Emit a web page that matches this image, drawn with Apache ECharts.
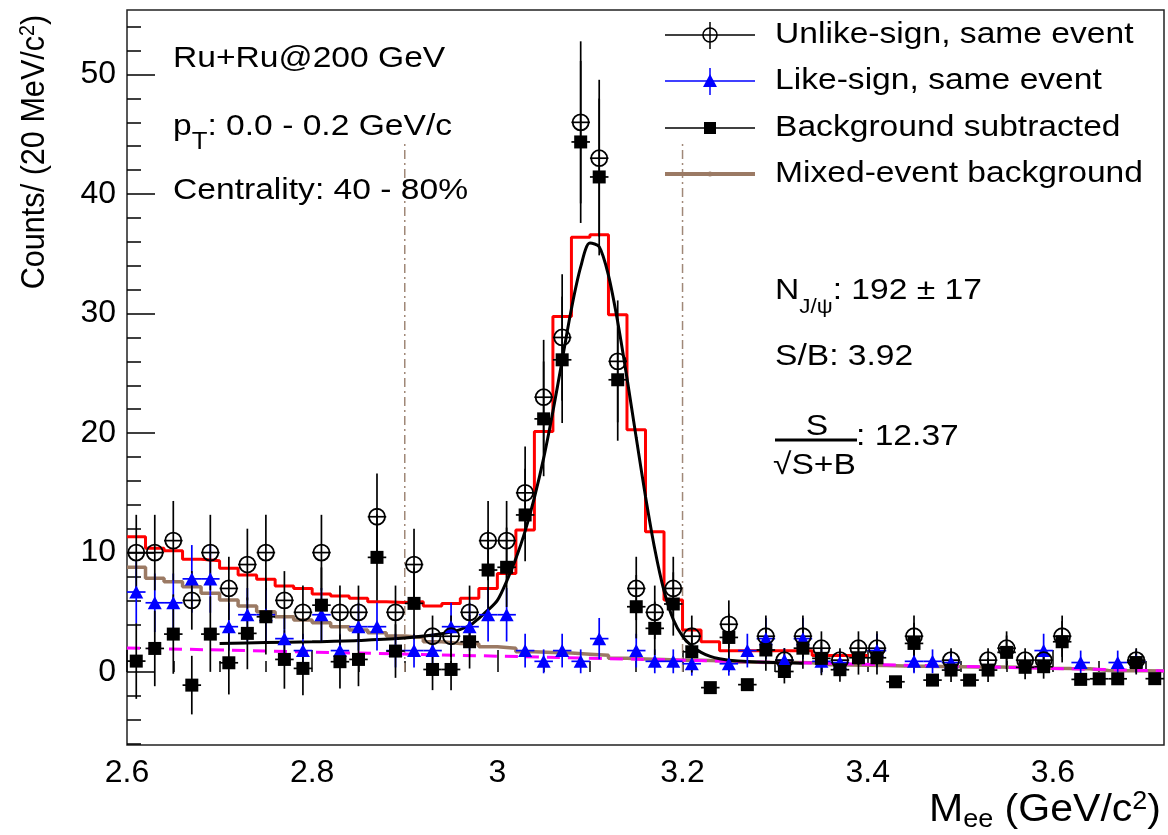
<!DOCTYPE html>
<html><head><meta charset="utf-8">
<script src="https://cdn.jsdelivr.net/npm/echarts@6/dist/echarts.min.js"></script>
<style>html,body{margin:0;padding:0;background:#fff}#c{width:1168px;height:835px}</style>
</head><body><div id="c"></div>
<script>
// ---------------- DATA ----------------
const binCenters = [2.61,2.63,2.65,2.67,2.69,2.71,2.73,2.75,2.77,2.79,
  2.81,2.83,2.85,2.87,2.89,2.91,2.93,2.95,2.97,2.99,
  3.01,3.03,3.05,3.07,3.09,3.11,3.13,3.15,3.17,3.19,
  3.21,3.23,3.25,3.27,3.29,3.31,3.33,3.35,3.37,3.39,
  3.41,3.43,3.45,3.47,3.49,3.51,3.53,3.55,3.57,3.59,
  3.61,3.63,3.65,3.67,3.69,3.71];
const binEdges = [2.60,2.62,2.64,2.66,2.68,2.70,2.72,2.74,2.76,2.78,
  2.80,2.82,2.84,2.86,2.88,2.90,2.92,2.94,2.96,2.98,
  3.00,3.02,3.04,3.06,3.08,3.10,3.12,3.14,3.16,3.18,
  3.20,3.22,3.24,3.26,3.28,3.30,3.32,3.34,3.36,3.38,
  3.40,3.42,3.44,3.46,3.48,3.50,3.52,3.54,3.56,3.58,
  3.60,3.62,3.64,3.66,3.68,3.70,3.72];
const binHalfWidth = 0.01;

// Unlike-sign, same event (open circles)
const unlikeSign = [10,10,11,6,10,7,9,10,6,5,
  10,5,5,13,5,9,3,3,5,11,
  11,15,23,28,46,43,26,7,5,7,
  3,null,4,null,3,1,3,2,1,2,
  2,null,3,null,1,null,1,2,1,1,
  3,null,null,null,1,null];
const unlikeSignErr = [3.16,3.16,3.32,2.45,3.16,2.65,3.0,3.16,2.45,2.24,
  3.16,2.24,2.24,3.61,2.24,3.0,1.73,1.73,2.24,3.32,
  3.32,3.87,4.8,5.29,6.78,6.56,5.1,2.65,2.24,2.65,
  1.73,null,2.0,null,1.73,1.0,1.73,1.41,1.0,1.41,
  1.41,null,1.73,null,1.0,null,1.0,1.41,1.0,1.0,
  1.73,null,null,null,1.0,null];

// Like-sign, same event (blue triangles)
const likeSign = [6.7,5.8,5.8,7.8,7.8,3.8,4.8,4.8,2.8,1.8,
  4.8,1.8,3.8,3.8,1.8,1.8,1.8,3.8,3.8,4.8,
  4.8,1.8,0.9,1.8,0.9,2.8,null,1.8,0.9,0.9,
  0.7,null,0.7,1.8,2.8,1.0,2.8,0.9,0.8,null,
  1.8,null,0.9,0.9,0.8,null,null,null,null,1.8,
  null,0.8,null,0.8,0.9,null];
const likeSignErr = [2.65,2.45,2.45,2.83,2.83,2.0,2.24,2.24,1.73,1.41,
  2.24,1.41,2.0,2.0,1.41,1.41,1.41,2.0,2.0,2.24,
  2.24,1.41,1.0,1.41,1.0,1.73,null,1.41,1.0,1.0,
  1.0,null,1.0,1.41,1.73,1.0,1.73,1.0,1.0,null,
  1.41,null,1.0,1.0,1.0,null,null,null,null,1.41,
  null,1.0,null,1.0,1.0,null];

// Background subtracted (filled squares)
const bgSubtracted = [0.92,1.98,3.18,-1.09,3.18,0.78,3.24,4.63,1.06,0.31,
  5.6,0.87,1.06,9.6,1.76,5.75,0.22,0.22,2.54,8.54,
  8.77,13.15,21.19,26.13,44.36,41.43,24.46,5.47,3.66,5.7,
  1.7,-1.3,2.9,-1.05,1.85,0.05,2.0,1.15,0.2,1.2,
  1.2,-0.81,2.4,-0.67,0.17,-0.67,0.17,1.65,0.4,0.45,
  2.54,-0.61,-0.56,-0.56,0.8,-0.55];
const bgSubtractedErr = [3.16,3.16,3.32,2.45,3.16,2.65,3.0,3.16,2.45,2.24,
  3.16,2.24,2.24,3.61,2.24,3.0,1.73,1.73,2.24,3.32,
  3.32,3.87,4.8,5.29,6.78,6.56,5.1,2.65,2.24,2.65,
  1.73,0,2.0,0,1.73,1.0,1.73,1.41,1.0,1.41,
  1.41,0,1.73,0,1.0,0,1.0,1.41,1.0,1.0,
  1.73,0,0,0,1.0,0];

// Mixed-event background (brown histogram)
const mixedBg = [8.77,7.85,7.57,7.15,6.59,6.03,5.53,5.05,4.63,4.36,
  4.13,3.8,3.52,3.3,3.02,2.9,2.54,2.4,2.37,2.12,
  2.0,1.7,1.63,1.6,1.5,1.4,1.15,1.1,1.05,1.0,
  1.0,0.95,0.85,0.82,0.8,0.8,0.78,0.62,0.6,0.58,
  0.56,0.5,0.48,0.46,0.44,0.42,0.42,0.4,0.38,0.33,
  0.3,0.28,0.14,0.12,0.11,0.1];

// Total (red histogram), bins 2.60 - 3.40
const totalFit = [11.33,10.36,10.16,9.44,9.32,8.68,8.12,7.76,7.2,7.0,
  6.53,6.36,6.17,5.89,5.83,5.89,5.53,5.75,6.17,7.0,
  8.26,11.89,20.13,29.76,36.38,36.6,29.9,20.27,11.75,6.03,
  3.52,2.54,1.78,1.78,1.78,1.78,1.78,1.38,1.38,1.38];

// Signal + residual fit (black curve)
const fitX = [2.70,2.75,2.80,2.85,2.90,2.95,2.97,2.98,2.99,3.00,3.01,3.02,3.03,3.04,3.05,3.06,3.07,3.08,3.09,
  3.10,3.11,3.12,3.13,3.14,3.15,3.16,3.17,3.18,3.19,3.20,3.21,3.22,3.23,3.24,3.25,3.27,3.30,3.33];
const fitY = [2.40,2.47,2.54,2.65,2.85,3.35,3.9,4.5,5.2,6.0,7.6,9.5,11.8,14.6,17.9,21.8,26.1,30.4,33.9,
  35.9,35.6,33.2,29.3,24.6,19.6,14.7,10.3,6.8,4.4,3.0,2.2,1.65,1.32,1.12,1.0,0.88,0.8,0.75];

// Residual background (magenta dashed line)
const residX = [2.60, 3.72];
const residY = [2.02, 0.10];

// Mass window (dash-dotted lines)
const windowX = [2.9, 3.2];
const windowRange = [0, 44.4];

// Axis ticks
const xTickLabels = [2.6, 2.8, 3.0, 3.2, 3.4, 3.6];
const xMinorTicks = [2.65,2.7,2.75,2.85,2.9,2.95,3.05,3.1,3.15,3.25,3.3,3.35,3.45,3.5,3.55,3.65,3.7];
const yTickLabels = [0, 10, 20, 30, 40, 50];
const yMinorTicks = [-6,-4,-2,2,4,6,8,12,14,16,18,22,24,26,28,32,34,36,38,42,44,46,48,52,54];
const xRange = [2.6, 3.72];
const yRange = [-6.1, 55.4];

// ---------------- CHART ----------------
const FONT = '"Liberation Sans", Arial, Helvetica, sans-serif';
const BROWN = '#9b7a64';
const chart = echarts.init(document.getElementById('c'), null, {renderer: 'canvas'});

function pts(xs, ys) { const o = []; xs.forEach((x, i) => { if (ys[i] != null) o.push([x, ys[i]]); }); return o; }
function errPts(xs, ys, es) { const o = []; xs.forEach((x, i) => { if (ys[i] != null) o.push([x, ys[i], es[i] || 0]); }); return o; }
function stepPts(edges, vals) { const o = []; vals.forEach((v, i) => { o.push([edges[i], v]); o.push([edges[i + 1], v]); }); return o; }

function errSeries(data, color, z) {
  return {
    type: 'custom', data, z, silent: true, clip: true,
    encode: {x: 0, y: 1},
    renderItem(params, api) {
      const x = api.value(0), y = api.value(1), e = api.value(2);
      const c = api.coord([x, y]);
      const t = api.coord([x, y + e]), b = api.coord([x, y - e]);
      const l = api.coord([x - binHalfWidth, y]), r = api.coord([x + binHalfWidth, y]);
      const st = {stroke: color, lineWidth: 1.7};
      return {type: 'group', children: [
        {type: 'line', shape: {x1: c[0], y1: t[1], x2: c[0], y2: b[1]}, style: st},
        {type: 'line', shape: {x1: l[0], y1: c[1], x2: r[0], y2: c[1]}, style: st}
      ]};
    }
  };
}

function txt(x, y, text, opts) {
  opts = opts || {};
  const size = opts.size || 30;
  return {
    type: 'text', x, y, scaleX: opts.scaleX || 1, scaleY: opts.scaleY || 1, rotation: opts.rotation || 0, z: 100,
    style: {
      text, fill: '#000', font: size + 'px ' + FONT, fontSize: size, fontFamily: FONT,
      align: opts.align || 'left', verticalAlign: 'middle',
      textAlign: opts.align || 'left', textVerticalAlign: 'middle',
      rich: opts.rich
    }
  };
}
function richSet(base, sub, shift) {
  return {
    b: {fontSize: base, fontFamily: FONT, color: '#000', lineHeight: base},
    s: {fontSize: sub, fontFamily: FONT, color: '#000', lineHeight: sub, padding: [shift * 2, 0, 0, 0]},
    u: {fontSize: sub, fontFamily: FONT, color: '#000', lineHeight: sub, padding: [0, 0, shift * 2, 0]}
  };
}

const SX = 1.12;
const legendRows = [
  {y: 35, label: 'Unlike-sign, same event'},
  {y: 81, label: 'Like-sign, same event'},
  {y: 128, label: 'Background subtracted'},
  {y: 174, label: 'Mixed-event background'}
];
const graphics = [];
// legend samples
graphics.push({type: 'line', shape: {x1: 665, y1: 35, x2: 755, y2: 35}, style: {stroke: '#000', lineWidth: 1.5}, z: 100});
graphics.push({type: 'line', shape: {x1: 710, y1: 22, x2: 710, y2: 49}, style: {stroke: '#000', lineWidth: 1.5}, z: 100});
graphics.push({type: 'circle', shape: {cx: 710, cy: 35, r: 7}, style: {stroke: '#000', fill: 'none', lineWidth: 1.6}, z: 101});
graphics.push({type: 'line', shape: {x1: 665, y1: 81, x2: 755, y2: 81}, style: {stroke: '#0000ff', lineWidth: 1.5}, z: 100});
graphics.push({type: 'line', shape: {x1: 710, y1: 68, x2: 710, y2: 95}, style: {stroke: '#0000ff', lineWidth: 1.5}, z: 100});
graphics.push({type: 'polygon', shape: {points: [[710, 74], [703, 87], [717, 87]]}, style: {fill: '#0000ff'}, z: 101});
graphics.push({type: 'line', shape: {x1: 665, y1: 128, x2: 755, y2: 128}, style: {stroke: '#000', lineWidth: 1.5}, z: 100});
graphics.push({type: 'rect', shape: {x: 704, y: 122, width: 12, height: 12}, style: {fill: '#000'}, z: 101});
graphics.push({type: 'line', shape: {x1: 665, y1: 174, x2: 755, y2: 174}, style: {stroke: BROWN, lineWidth: 4}, z: 100});
graphics.push({type: 'circle', shape: {cx: 710, cy: 174, r: 2.5}, style: {fill: BROWN}, z: 101});
legendRows.forEach(r => graphics.push(txt(775, r.y, r.label, {size: 30, scaleX: SX})));

// annotations
graphics.push(txt(173, 59, 'Ru+Ru@200 GeV', {size: 30, scaleX: SX}));
graphics.push(txt(173, 127, '{b|p}{s|T}{b|: 0.0 - 0.2 GeV/c}', {size: 30, scaleX: SX, rich: richSet(30, 23, 16)}));
graphics.push(txt(173, 191, 'Centrality: 40 - 80%', {size: 30, scaleX: SX}));
graphics.push(txt(775, 291, '{b|N}{s|J/ψ}{b|: 192 ± 17}', {size: 30, scaleX: SX, rich: richSet(30, 20, 16)}));
graphics.push(txt(775, 357, 'S/B: 3.92', {size: 30, scaleX: SX}));
graphics.push(txt(817, 427, 'S', {size: 30, scaleX: SX, align: 'center'}));
graphics.push({type: 'line', shape: {x1: 775, y1: 440, x2: 857, y2: 440}, style: {stroke: '#000', lineWidth: 3}, z: 100});
graphics.push(txt(773, 466, '√S+B', {size: 30, scaleX: SX}));
graphics.push(txt(856, 437, ': 12.37', {size: 30, scaleX: SX}));

// axis titles
graphics.push(txt(35, 152, '{b|Counts/ (20 MeV/c}{u|2}{b|)}', {size: 34, rotation: Math.PI / 2, align: 'center', scaleX: 0.9, rich: richSet(34, 22, 7)}));
graphics.push(txt(1161, 811, '{b|M}{s|ee}{b| (GeV/c}{u|2}{b|)}', {size: 38, align: 'right', scaleX: 1.08, rich: richSet(38, 25, 9)}));

const tickLine = {color: '#000', width: 1.5};
const option = {
  animation: false,
  backgroundColor: '#fff',
  grid: {left: 127, top: 10, width: 1037, height: 735, show: true, borderColor: '#222', borderWidth: 1.5, backgroundColor: 'transparent'},
  xAxis: [
    {type: 'value', min: xRange[0], max: xRange[1], position: 'bottom', axisLine: {show: false}, splitLine: {show: false},
     axisTick: {show: true, inside: true, length: 22, customValues: xTickLabels, lineStyle: tickLine},
     axisLabel: {customValues: xTickLabels, fontSize: 32, color: '#000', margin: 12, fontFamily: FONT,
       formatter: v => String(Number(Number(v).toFixed(1)))}},
    {type: 'value', min: xRange[0], max: xRange[1], position: 'bottom', axisLine: {show: false}, splitLine: {show: false},
     axisTick: {show: true, inside: true, length: 11, customValues: xMinorTicks, lineStyle: tickLine},
     axisLabel: {show: false}}
  ],
  yAxis: [
    {type: 'value', min: yRange[0], max: yRange[1], position: 'left', axisLine: {show: false}, splitLine: {show: false},
     axisTick: {show: true, inside: true, length: 28, customValues: yTickLabels, lineStyle: tickLine},
     axisLabel: {customValues: yTickLabels, fontSize: 32, color: '#000', margin: 11, fontFamily: FONT}},
    {type: 'value', min: yRange[0], max: yRange[1], position: 'left', axisLine: {show: false}, splitLine: {show: false},
     axisTick: {show: true, inside: true, length: 14, customValues: yMinorTicks, lineStyle: tickLine},
     axisLabel: {show: false}}
  ],
  graphic: {elements: graphics},
  series: [
    {type: 'line', data: stepPts(binEdges, mixedBg), symbol: 'none', z: 2, lineStyle: {color: BROWN, width: 3.5}},
    {type: 'line', data: pts(residX, residY), symbol: 'none', z: 3, lineStyle: {color: '#ff00ff', width: 3, type: [13, 8]}},
    {type: 'line', data: stepPts(binEdges.slice(0, totalFit.length + 1), totalFit), symbol: 'none', z: 3, lineStyle: {color: '#ff0000', width: 3}},
    {type: 'line', data: [[windowX[0], windowRange[0]], [windowX[0], windowRange[1]]], symbol: 'none', z: 1, lineStyle: {color: '#a08878', width: 1.5, type: [9, 4, 2, 4]}},
    {type: 'line', data: [[windowX[1], windowRange[0]], [windowX[1], windowRange[1]]], symbol: 'none', z: 1, lineStyle: {color: '#a08878', width: 1.5, type: [9, 4, 2, 4]}},
    {type: 'line', data: pts(fitX, fitY), symbol: 'none', smooth: 0.3, z: 4, lineStyle: {color: '#000', width: 3}},
    errSeries(errPts(binCenters, likeSign, likeSignErr), '#0000ff', 5),
    errSeries(errPts(binCenters, unlikeSign, unlikeSignErr), '#000', 5),
    errSeries(errPts(binCenters, bgSubtracted, bgSubtractedErr), '#000', 5),
    {type: 'scatter', data: pts(binCenters, likeSign), symbol: 'triangle', symbolSize: [14, 13], z: 6, itemStyle: {color: '#0000ff', opacity: 1}},
    {type: 'scatter', data: pts(binCenters, unlikeSign), symbol: 'circle', symbolSize: 16, z: 6, itemStyle: {color: 'rgba(0,0,0,0)', borderColor: '#000', borderWidth: 1.8, opacity: 1}},
    {type: 'scatter', data: pts(binCenters, bgSubtracted), symbol: 'rect', symbolSize: 13, z: 7, itemStyle: {color: '#000', opacity: 1}}
  ]
};
chart.setOption(option);
</script>
</body></html>
